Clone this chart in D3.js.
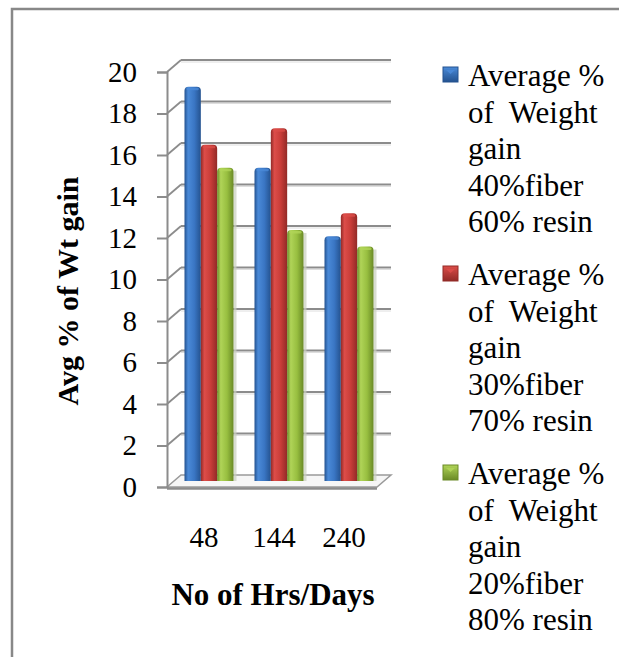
<!DOCTYPE html>
<html>
<head>
<meta charset="utf-8">
<script src="https://cdn.jsdelivr.net/npm/d3@7"></script>
<style>
  body { margin: 0; background: #fff; }
  svg { display: block; }
</style>
</head>
<body>
<script>
// Average weight gain (%) after immersion, per fibre/resin ratio
const categories = ["48", "144", "240"];
const fiber40 = [19.0, 15.1, 11.8];
const fiber30 = [16.2, 17.0, 12.9];
const fiber20 = [15.1, 12.1, 11.3];
const seriesLabels = [
  ["Average %", "of  Weight", "gain", "40%fiber", "60% resin"],
  ["Average %", "of  Weight", "gain", "30%fiber", "70% resin"],
  ["Average %", "of  Weight", "gain", "20%fiber", "80% resin"]
];
const yTicks = [0, 2, 4, 6, 8, 10, 12, 14, 16, 18, 20];
const xTitle = "No of Hrs/Days";
const yTitle = "Avg % of Wt gain";

const series = [fiber40, fiber30, fiber20];
const palette = [
  { dark: "#24528f", light: "#4a8ad8", mid: "#3a76c4" },
  { dark: "#922a27", light: "#dc4d49", mid: "#c93d39" },
  { dark: "#6a8a26", light: "#b0d458", mid: "#98bf40" }
];
const serif = "'Liberation Serif', 'Times New Roman', Times, serif";

const W = 619, H = 657;
const svg = d3.select("body").append("svg").attr("width", W).attr("height", H)
  .attr("font-family", serif);
const defs = svg.append("defs");

// outer frame (cut at the right and bottom edges)
svg.append("path")
  .attr("d", `M12,${H + 5}V9H${W + 5}`)
  .attr("fill", "none").attr("stroke", "#888").attr("stroke-width", 2.5);

// 3D box: front plane scales plus a depth offset
const depthX = 14, depthY = -12;
const x = d3.scaleBand().domain(categories).range([167, 377]).paddingInner(0.3).paddingOuter(0.15);
const xSub = d3.scaleBand().domain(d3.range(series.length)).range([0, x.bandwidth()]);
const y = d3.scaleLinear().domain([0, 20]).range([487, 72]);

const grid = svg.append("g");
// back wall gridlines
grid.selectAll("line.back").data(yTicks.filter(t => t > 0)).join("line")
  .attr("x1", 167 + depthX).attr("x2", 377 + depthX)
  .attr("y1", d => y(d) + depthY).attr("y2", d => y(d) + depthY)
  .attr("stroke", "#8c8c8c").attr("stroke-width", 2.2);
grid.selectAll("line.backShade").data(yTicks.filter(t => t > 0)).join("line")
  .attr("x1", 167 + depthX).attr("x2", 377 + depthX)
  .attr("y1", d => y(d) + depthY + 2).attr("y2", d => y(d) + depthY + 2)
  .attr("stroke", "#dedede").attr("stroke-width", 1);
// side wall diagonals
grid.selectAll("line.side").data(yTicks.filter(t => t > 0)).join("line")
  .attr("x1", 167).attr("x2", 167 + depthX)
  .attr("y1", d => y(d)).attr("y2", d => y(d) + depthY)
  .attr("stroke", "#8c8c8c").attr("stroke-width", 1.8);

// floor slab
const fx0 = 167, fx1 = 377, fy = y(0);
grid.append("path")
  .attr("d", `M${fx0},${fy}L${fx1},${fy}L${fx1 + depthX},${fy + depthY}L${fx0 + depthX},${fy + depthY}Z`)
  .attr("fill", "#f6f6f6").attr("stroke", "#9a9a9a").attr("stroke-width", 1.5);
grid.append("line")
  .attr("x1", fx0).attr("x2", fx1).attr("y1", fy + 1.5).attr("y2", fy + 1.5)
  .attr("stroke", "#8c8c8c").attr("stroke-width", 2.5);

// front vertical axis with ticks
const yAxis = d3.axisLeft(y).tickValues(yTicks).tickSize(10).tickPadding(20).tickFormat(d3.format("d"));
const ya = svg.append("g").attr("transform", "translate(167,0)").call(yAxis)
  .attr("font-family", serif).attr("font-size", 29);
ya.select(".domain").attr("stroke", "#8c8c8c").attr("stroke-width", 2);
ya.selectAll(".tick line").attr("stroke", "#8c8c8c").attr("stroke-width", 2);
ya.selectAll(".tick text").attr("fill", "#000");

// bar gradients
palette.forEach((c, i) => {
  const g = defs.append("linearGradient").attr("id", "bar" + i).attr("x1", "0").attr("x2", "1").attr("y1", "0").attr("y2", "0");
  g.append("stop").attr("offset", "0%").attr("stop-color", c.dark);
  g.append("stop").attr("offset", "22%").attr("stop-color", c.light);
  g.append("stop").attr("offset", "60%").attr("stop-color", c.mid);
  g.append("stop").attr("offset", "100%").attr("stop-color", c.dark);
  const m = defs.append("linearGradient").attr("id", "mark" + i).attr("x1", "0").attr("x2", "0").attr("y1", "0").attr("y2", "1");
  m.append("stop").attr("offset", "0%").attr("stop-color", c.light);
  m.append("stop").attr("offset", "100%").attr("stop-color", c.dark);
});

// bars sit at mid depth
const midX = depthX / 2, midY = depthY / 2;
const bars = svg.append("g");
// soft shadow cast to the right of each cluster
bars.selectAll(null).data(categories).join("rect")
  .attr("x", d => x(d) + x.bandwidth() + midX)
  .attr("y", (d, ci) => y(fiber20[ci]) + midY + 3)
  .attr("width", 3)
  .attr("height", (d, ci) => y(0) - y(fiber20[ci]) - 3)
  .attr("fill", "#c9cfbf").attr("opacity", 0.7);
series.forEach((vals, si) => {
  const r = 4;
  const rows = vals.map((v, ci) => ({ v, c: categories[ci] }));
  bars.selectAll(null).data(rows).join("path")
    .attr("d", d => {
      const x0 = x(d.c) + xSub(si) + midX, w = xSub.bandwidth();
      const yt = y(d.v) + midY, yb = y(0) + midY;
      return `M${x0},${yb}V${yt + r}Q${x0},${yt} ${x0 + r},${yt}H${x0 + w - r}Q${x0 + w},${yt} ${x0 + w},${yt + r}V${yb}Z`;
    })
    .attr("fill", `url(#bar${si})`);
  // rounded top highlight
  bars.selectAll(null).data(rows).join("rect")
    .attr("x", d => x(d.c) + xSub(si) + midX + 2)
    .attr("y", d => y(d.v) + midY + 1)
    .attr("width", xSub.bandwidth() - 4).attr("height", 2.5).attr("rx", 1.2)
    .attr("fill", palette[si].light).attr("opacity", 0.8);
});

// category labels
svg.append("g").selectAll("text").data(categories).join("text")
  .attr("x", d => x(d) + x.bandwidth() / 2 + 2)
  .attr("y", 547)
  .attr("text-anchor", "middle").attr("font-size", 29)
  .text(d => d);

// axis titles
svg.append("text").attr("x", 273).attr("y", 605).attr("text-anchor", "middle")
  .attr("font-size", 31).attr("font-weight", "bold").text(xTitle);
svg.append("text").attr("transform", "translate(78,291) rotate(-90)").attr("text-anchor", "middle")
  .attr("font-size", 30).attr("font-weight", "bold").style("white-space", "pre").text(yTitle);

// legend
const legend = svg.append("g");
seriesLabels.forEach((lines, i) => {
  const top = 86 + i * 199;
  legend.append("rect").attr("x", 443).attr("y", top - 19).attr("width", 15).attr("height", 15)
    .attr("fill", `url(#mark${i})`).attr("stroke", palette[i].dark).attr("stroke-width", 1);
  legend.append("path")
    .attr("d", `M446,${top - 16}H455L450.5,${top - 12}Z`)
    .attr("fill", palette[i].light).attr("opacity", 0.9);
  const t = legend.append("text").attr("x", 468).attr("y", top).attr("font-size", 31).style("white-space", "pre");
  lines.forEach((ln, k) => {
    t.append("tspan").attr("x", 468).attr("y", top + k * 36.5).text(ln);
  });
});
</script>
</body>
</html>
